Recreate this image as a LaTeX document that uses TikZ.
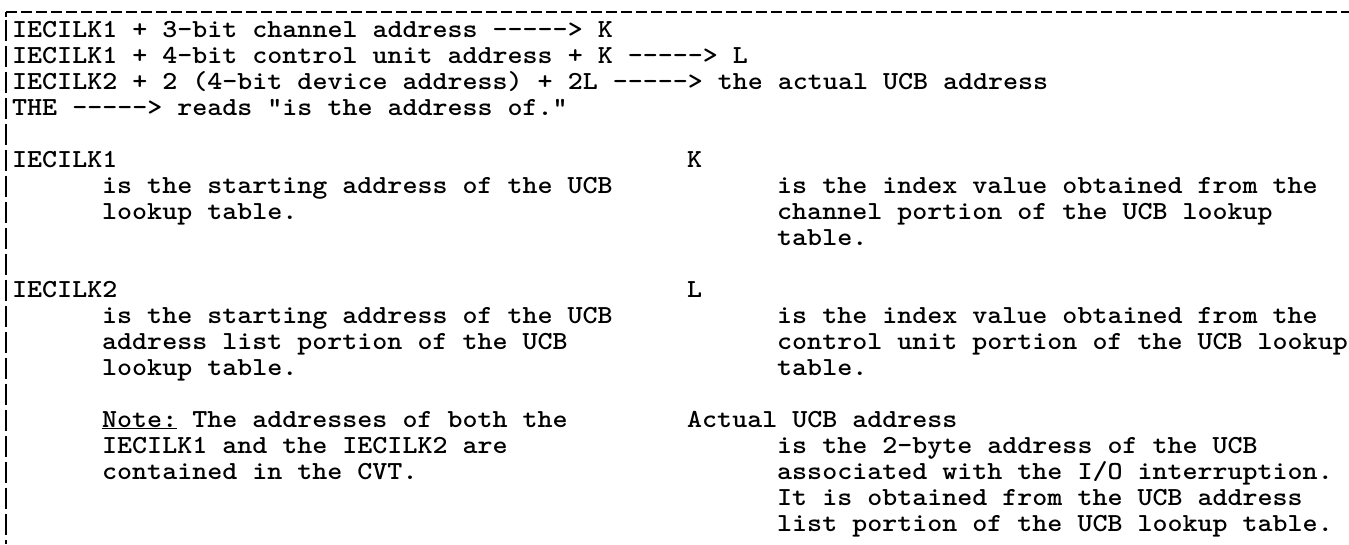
\documentclass[tikz,border=0pt]{standalone}
\begin{document}
\begin{tikzpicture}[x=1pt,y=-1pt,
  txt/.style={anchor=base west,inner sep=0pt,font=\ttfamily\fontseries{b}\fontsize{26}{27}\selectfont},
  toprule/.style={line width=2.6pt,black,dash pattern=on 11pt off 4pt},
  siderule/.style={line width=2.8pt,black,dash pattern=on 21pt off 5pt}]
\frenchspacing
\newcommand{\tw}[1]{\scalebox{1.1}[1]{#1}}
\useasboundingbox (0,0) rectangle (1349,544);
% frame
\coordinate (tl) at (6,12);
\coordinate (tr) at (1349,12);
\coordinate (ts) at (6,19.5);
\coordinate (bl) at (6,544);
\draw[toprule] (tl) -- (tr);
\draw[line width=2.8pt] (tl) -- ++(0,5);
\draw[siderule] (ts) -- (bl);
% formulas
\node[txt] (f1) at (12,37)  {\tw{IECILK1 + 3-bit channel address -{}-{}-{}-{}-> K}};
\node[txt] (f2) at (12,63)  {\tw{IECILK1 + 4-bit control unit address + K -{}-{}-{}-{}-> L}};
\node[txt] (f3) at (12,89)  {\tw{IECILK2 + 2 (4-bit device address) + 2L -{}-{}-{}-{}-> the actual UCB address}};
\node[txt] (f4) at (12,115) {\tw{THE -{}-{}-{}-{}-> reads "is the address of."}};
% left column
\node[txt] (a1) at (12,167)  {\tw{IECILK1}};
\node[txt] (a2) at (102,193) {\tw{is the starting address of the UCB}};
\node[txt] (a3) at (102,219) {\tw{lookup table.}};
\node[txt] (b1) at (12,297)  {\tw{IECILK2}};
\node[txt] (b2) at (102,323) {\tw{is the starting address of the UCB}};
\node[txt] (b3) at (102,349) {\tw{address list portion of the UCB}};
\node[txt] (b4) at (102,375) {\tw{lookup table.}};
\node[txt] (n1) at (102,427) {\tw{\underline{Note:} The addresses of both the}};
\node[txt] (n2) at (102,453) {\tw{IECILK1 and the IECILK2 are}};
\node[txt] (n3) at (102,479) {\tw{contained in the CVT.}};
% right column
\node[txt] (k1) at (687,167) {\tw{K}};
\node[txt] (k2) at (777,193) {\tw{is the index value obtained from the}};
\node[txt] (k3) at (777,219) {\tw{channel portion of the UCB lookup}};
\node[txt] (k4) at (777,245) {\tw{table.}};
\node[txt] (m1) at (687,297) {\tw{L}};
\node[txt] (m2) at (777,323) {\tw{is the index value obtained from the}};
\node[txt] (m3) at (777,349) {\tw{control unit portion of the UCB lookup}};
\node[txt] (m4) at (777,375) {\tw{table.}};
\node[txt] (u1) at (687,427) {\tw{Actual UCB address}};
\node[txt] (u2) at (777,453) {\tw{is the 2-byte address of the UCB}};
\node[txt] (u3) at (777,479) {\tw{associated with the I/O interruption.}};
\node[txt] (u4) at (777,505) {\tw{It is obtained from the UCB address}};
\node[txt] (u5) at (777,531) {\tw{list portion of the UCB lookup table.}};
\end{tikzpicture}
\end{document}
